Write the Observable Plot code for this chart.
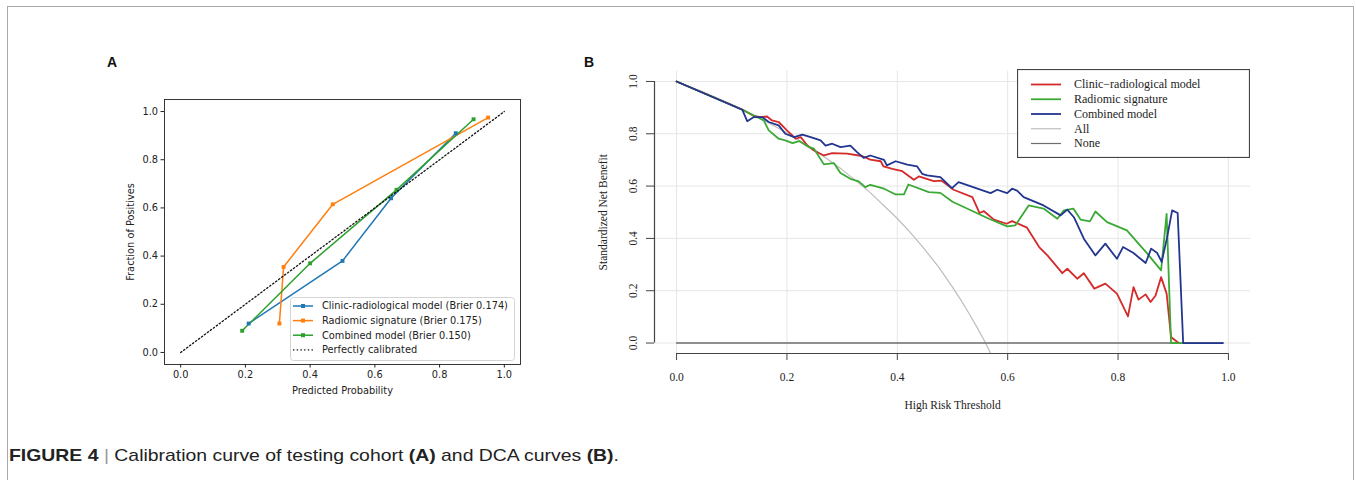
<!DOCTYPE html>
<html><head><meta charset="utf-8">
<script src="https://cdn.jsdelivr.net/npm/d3@7"></script>
<script src="https://cdn.jsdelivr.net/npm/@observablehq/plot@0.6"></script>
<style>
html,body{margin:0;padding:0;background:#fff;}
body{width:1356px;height:480px;overflow:hidden;position:relative;font-family:"Liberation Sans",Arial,sans-serif;}
#outer{position:absolute;left:7px;top:6px;width:1345px;height:540px;border:1px solid #aaa;}
.plabel{position:absolute;font:bold 14px "Liberation Sans",Arial,sans-serif;color:#111;}
#plotA{position:absolute;left:100px;top:80px;}
#plotB{position:absolute;left:580px;top:55px;}
#legA{position:absolute;left:290px;top:297px;}
#legB{position:absolute;left:1017px;top:69px;}
#caption{position:absolute;left:9px;top:446px;font-size:17px;color:#222;white-space:nowrap;transform-origin:0 50%;}
#caption b{font-weight:bold;}
#caption .bar{color:#999;font-weight:normal;}
</style></head>
<body>
<div id="outer"></div>
<div class="plabel" style="left:107px;top:54px;">A</div>
<div class="plabel" style="left:584px;top:54px;">B</div>
<div id="plotA"></div>
<div id="plotB"></div>
<div id="legA"></div>
<div id="legB"></div>
<div id="caption"><b>FIGURE 4</b> <span class="bar">|</span> Calibration curve of testing cohort <b>(A)</b> and DCA curves <b>(B)</b>.</div>
<script>
// ---------- Panel A data (calibration) ----------
const calibSeries = ["Clinic-radiological model (Brier 0.174)", "Radiomic signature (Brier 0.175)", "Combined model (Brier 0.150)"];
const calibColors = ["#1f77b4", "#ff7f0e", "#2ca02c"];
const perfectLabel = "Perfectly calibrated";
const clinicPred = [0.21, 0.50, 0.65, 0.85];
const clinicFrac = [0.12, 0.38, 0.64, 0.91];
const radiomicPred = [0.305, 0.318, 0.47, 0.95];
const radiomicFrac = [0.12, 0.355, 0.615, 0.975];
const combinedPred = [0.19, 0.40, 0.667, 0.905];
const combinedFrac = [0.09, 0.37, 0.675, 0.968];
const perfectPred = [0, 1];
const perfectFrac = [0, 1];
const calibTicks = [0, 0.2, 0.4, 0.6, 0.8, 1.0];
const calibDomain = [-0.05, 1.05];

// ---------- Panel B data (DCA) ----------
const dcaSeries = ["Clinic\u2212radiological model", "Radiomic signature", "Combined model", "All", "None"];
const dcaColors = ["#d42a2a", "#3aaa35", "#22358f", "#bdbdbd", "#6e6e6e"];
const clinicX = [0, 0.12, 0.14, 0.152, 0.164, 0.173, 0.185, 0.2, 0.216, 0.225, 0.237, 0.249, 0.267, 0.282, 0.309, 0.336, 0.351, 0.37, 0.375, 0.391, 0.409, 0.43, 0.439, 0.466, 0.48, 0.502, 0.536, 0.549, 0.557, 0.575, 0.598, 0.608, 0.635, 0.657, 0.672, 0.699, 0.708, 0.726, 0.738, 0.757, 0.777, 0.798, 0.818, 0.828, 0.837, 0.85, 0.859, 0.868, 0.878, 0.888, 0.896, 0.904, 0.91];
const clinicNB = [1.0, 0.892, 0.868, 0.864, 0.866, 0.851, 0.845, 0.813, 0.781, 0.787, 0.755, 0.736, 0.717, 0.726, 0.724, 0.715, 0.701, 0.695, 0.675, 0.666, 0.657, 0.624, 0.637, 0.619, 0.621, 0.586, 0.558, 0.497, 0.504, 0.472, 0.456, 0.466, 0.441, 0.367, 0.335, 0.267, 0.284, 0.246, 0.267, 0.208, 0.227, 0.189, 0.102, 0.214, 0.166, 0.186, 0.157, 0.182, 0.252, 0.189, 0.023, 0.01, 0.0];
const radiomicX = [0, 0.119, 0.14, 0.158, 0.167, 0.185, 0.197, 0.21, 0.222, 0.24, 0.249, 0.267, 0.285, 0.297, 0.315, 0.33, 0.342, 0.351, 0.376, 0.397, 0.412, 0.42, 0.457, 0.478, 0.50, 0.566, 0.599, 0.614, 0.638, 0.665, 0.69, 0.702, 0.719, 0.732, 0.749, 0.759, 0.78, 0.816, 0.853, 0.878, 0.888, 0.896, 0.92];
const radiomicNB = [1.0, 0.892, 0.87, 0.851, 0.813, 0.781, 0.775, 0.764, 0.772, 0.749, 0.743, 0.683, 0.688, 0.65, 0.628, 0.618, 0.596, 0.605, 0.59, 0.568, 0.568, 0.606, 0.577, 0.574, 0.54, 0.475, 0.446, 0.45, 0.526, 0.514, 0.475, 0.507, 0.514, 0.472, 0.465, 0.503, 0.462, 0.431, 0.342, 0.278, 0.494, 0.0, 0.0];
const combinedX = [0, 0.119, 0.128, 0.14, 0.155, 0.167, 0.185, 0.197, 0.213, 0.228, 0.243, 0.261, 0.27, 0.282, 0.297, 0.315, 0.327, 0.339, 0.351, 0.376, 0.381, 0.397, 0.418, 0.436, 0.445, 0.454, 0.478, 0.499, 0.511, 0.569, 0.581, 0.599, 0.608, 0.617, 0.629, 0.665, 0.696, 0.708, 0.72, 0.738, 0.759, 0.777, 0.798, 0.809, 0.828, 0.85, 0.86, 0.871, 0.879, 0.889, 0.898, 0.908, 0.918, 0.99];
const combinedNB = [1.0, 0.892, 0.848, 0.864, 0.864, 0.845, 0.832, 0.80, 0.787, 0.797, 0.787, 0.775, 0.755, 0.762, 0.749, 0.755, 0.73, 0.708, 0.717, 0.70, 0.679, 0.695, 0.682, 0.675, 0.647, 0.641, 0.634, 0.592, 0.615, 0.573, 0.586, 0.573, 0.59, 0.583, 0.558, 0.526, 0.488, 0.51, 0.481, 0.399, 0.335, 0.38, 0.322, 0.367, 0.344, 0.306, 0.361, 0.344, 0.31, 0.405, 0.507, 0.497, 0.0, 0.0];
const allX = [0, 0.05, 0.1, 0.15, 0.2, 0.25, 0.3, 0.35, 0.4, 0.425, 0.45, 0.475, 0.5, 0.515, 0.53, 0.545, 0.56, 0.569];
const allNB = [1.0, 0.959, 0.913, 0.861, 0.804, 0.738, 0.663, 0.577, 0.476, 0.419, 0.357, 0.29, 0.214, 0.165, 0.113, 0.058, 0.0, -0.04];
const noneX = [0, 0.99];
const noneNB = [0, 0];
const dcaTicks = [0, 0.2, 0.4, 0.6, 0.8, 1.0];
const dcaDomain = [-0.04, 1.04];

const fmt = d3.format(".1f");
const zip = (name, xs, ys) => xs.map((x, i) => ({series: name, x, y: ys[i]}));
const NS = "http://www.w3.org/2000/svg";
function el(tag, attrs, parent) {
  const e = document.createElementNS(NS, tag);
  for (const k in attrs) e.setAttribute(k, attrs[k]);
  if (parent) parent.appendChild(e);
  return e;
}

// ---------- Panel A ----------
const calibRows = [
  ...zip(calibSeries[0], clinicPred, clinicFrac),
  ...zip(calibSeries[1], radiomicPred, radiomicFrac),
  ...zip(calibSeries[2], combinedPred, combinedFrac)
];
const perfectRows = zip(perfectLabel, perfectPred, perfectFrac);

const plotA = Plot.plot({
  width: 440, height: 330,
  marginLeft: 64, marginRight: 20, marginTop: 19, marginBottom: 46,
  style: {fontFamily: "DejaVu Sans", fontSize: "9.8px", color: "#222", background: "transparent", overflow: "visible"},
  x: {domain: calibDomain},
  y: {domain: calibDomain},
  color: {domain: calibSeries, range: calibColors},
  marks: [
    Plot.axisX({ticks: calibTicks, tickFormat: fmt, tickSize: 3.5, tickPadding: 3, label: "Predicted Probability", labelAnchor: "center", labelArrow: "none", labelOffset: 29}),
    Plot.axisY({ticks: calibTicks, tickFormat: fmt, tickSize: 3.5, tickPadding: 3, label: "Fraction of Positives", labelAnchor: "center", labelArrow: "none", labelOffset: 37}),
    Plot.line(calibRows, {x: "x", y: "y", z: "series", stroke: "series", strokeWidth: 1.5}),
    Plot.dot(calibRows, {x: "x", y: "y", fill: "series", symbol: "square", r: 2.2}),
    Plot.line(perfectRows, {x: "x", y: "y", stroke: "#111", strokeWidth: 1.3, strokeDasharray: "1.4,2.3"}),
    Plot.frame({stroke: "#222", strokeWidth: 0.9})
  ]
});
document.getElementById("plotA").appendChild(plotA);

// Legend A (SVG)
{
  const W = 225, H = 64;
  const svg = el("svg", {width: W, height: H, "font-family": "DejaVu Sans", "font-size": "9.8px"});
  el("rect", {x: 0.5, y: 0.5, width: W - 1, height: H - 1, rx: 3, fill: "#fff", "fill-opacity": 0.85, stroke: "#d4d4d4"}, svg);
  [...calibSeries, perfectLabel].forEach((name, i) => {
    const cy = 9 + i * 14.6;
    const isPerfect = i === calibSeries.length;
    const col = isPerfect ? "#111" : calibColors[i];
    el("line", {x1: 3, x2: 23, y1: cy, y2: cy, stroke: col, "stroke-width": isPerfect ? 1.3 : 1.5, "stroke-dasharray": isPerfect ? "1.4,2.3" : "none"}, svg);
    if (!isPerfect) el("rect", {x: 11, y: cy - 2, width: 4, height: 4, fill: col}, svg);
    const t = el("text", {x: 32, y: cy, dy: "0.35em", fill: "#222"}, svg);
    t.textContent = name;
  });
  document.getElementById("legA").appendChild(svg);
}

// ---------- Panel B ----------
const dcaRows = [
  ...zip(dcaSeries[3], allX, allNB),
  ...zip(dcaSeries[4], noneX, noneNB),
  ...zip(dcaSeries[0], clinicX, clinicNB),
  ...zip(dcaSeries[1], radiomicX, radiomicNB),
  ...zip(dcaSeries[2], combinedX, combinedNB)
];
const modelWidth = {[dcaSeries[0]]: 1.8, [dcaSeries[1]]: 1.8, [dcaSeries[2]]: 1.8, [dcaSeries[3]]: 1.2, [dcaSeries[4]]: 1.4};

const plotB = Plot.plot({
  width: 680, height: 360,
  marginLeft: 74, marginRight: 10, marginTop: 15.5, marginBottom: 62,
  style: {fontFamily: "'Liberation Serif', 'Times New Roman', serif", fontSize: "11.5px", color: "#222", background: "transparent"},
  x: {domain: dcaDomain},
  y: {domain: dcaDomain},
  color: {domain: dcaSeries, range: dcaColors},
  marks: [
    Plot.gridX(dcaTicks, {stroke: "#e6e6e6", strokeOpacity: 1, strokeWidth: 1}),
    Plot.gridY(dcaTicks, {stroke: "#e6e6e6", strokeOpacity: 1, strokeWidth: 1}),
    Plot.axisX({ticks: dcaTicks, tickFormat: fmt, tickSize: 7, tickPadding: 12, stroke: "#444", label: "High Risk Threshold", labelAnchor: "center", labelArrow: "none", labelOffset: 55}),
    Plot.axisY({ticks: dcaTicks, tickFormat: fmt, tickSize: 8, tickPadding: 10, tickRotate: -90, stroke: "#444", label: "Standardized Net Benefit", labelAnchor: "center", labelArrow: "none", labelOffset: 56}),
    Plot.ruleY([dcaDomain[0]], {x1: dcaTicks[0], x2: dcaTicks[dcaTicks.length - 1], stroke: "#444", strokeWidth: 1.2}),
    Plot.ruleX([dcaDomain[0]], {y1: dcaTicks[0], y2: dcaTicks[dcaTicks.length - 1], stroke: "#444", strokeWidth: 1.2}),
    Plot.line(dcaRows, {x: "x", y: "y", z: "series", stroke: "series", strokeWidth: d => modelWidth[d.series], clip: true})
  ]
});
document.getElementById("plotB").appendChild(plotB);

// Legend B (SVG)
{
  const W = 233, H = 89;
  const svg = el("svg", {width: W, height: H, "font-family": "Liberation Serif, Times New Roman, serif", "font-size": "12px"});
  el("rect", {x: 0.5, y: 0.5, width: W - 1, height: H - 1, fill: "#fff", stroke: "#444", "stroke-width": 1.2}, svg);
  dcaSeries.forEach((name, i) => {
    const cy = 15.5 + i * 14.75;
    el("line", {x1: 14, x2: 44, y1: cy, y2: cy, stroke: dcaColors[i], "stroke-width": i < 3 ? 1.8 : 1.2}, svg);
    const t = el("text", {x: 57, y: cy, dy: "0.33em", fill: "#222"}, svg);
    t.textContent = name;
  });
  document.getElementById("legB").appendChild(svg);
}

// Caption: fit the condensed look of the original
const cap = document.getElementById("caption");
const w = cap.getBoundingClientRect().width;
cap.style.transform = `scaleX(${610 / w})`;
</script>
</body></html>
